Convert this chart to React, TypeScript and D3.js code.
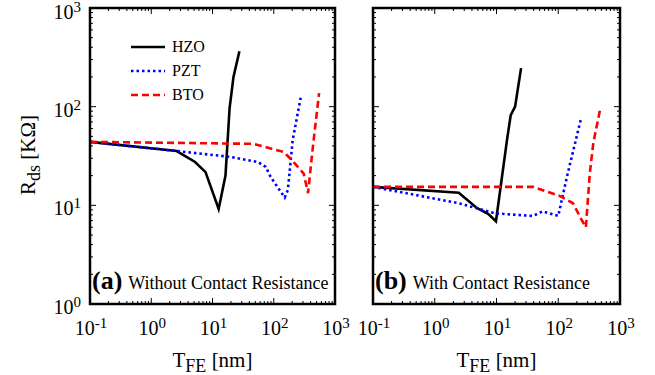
import React from "react";
import * as d3 from "d3";

// T_FE [nm] and R_ds [KOhm]
const hzoA = [[0.1, 44], [2.6, 35.5], [5.2, 27.5], [7.7, 21.7], [12.6, 9.2], [16.3, 20], [19, 96], [22, 200], [27.5, 365]];
const pztA = [[0.1, 44], [2.6, 35.5], [19.6, 31], [55, 27.5], [74, 24.5], [89, 19.4], [151, 12], [170, 14.3], [204, 46], [275, 123]];
const btoA = [[0.1, 44], [47, 42], [145, 34.7], [190, 29.5], [308, 21], [363, 13.3], [435, 39], [550, 137]];

const hzoB = [[0.1, 15.4], [2.45, 13.4], [4.8, 9.4], [7.3, 8.2], [9.8, 6.9], [14.8, 46], [17, 82], [20, 100], [25, 246]];
const pztB = [[0.1, 15.4], [2.45, 10.5], [9.4, 8.3], [39, 7.8], [56, 8.7], [100, 7.8], [138, 19.4], [234, 76]];
const btoB = [[0.1, 15.4], [39, 15.4], [107, 12.4], [173, 10.5], [240, 7.1], [280, 6.0], [325, 21.3], [370, 43], [480, 96]];

const xDecades = [-1, 0, 1, 2, 3];
const yDecades = [0, 1, 2, 3];
const legendNames = ["HZO", "PZT", "BTO"];

const styles = [
  { color: "#000000", dash: null },
  { color: "#0000ff", dash: "2.5,3" },
  { color: "#ff0000", dash: "7,4" },
];

const FONT = "Liberation Serif";

function Pow({ exp, x, y, anchor }: { exp: number; x: number; y: number; anchor: string }) {
  return (
    <text x={x} y={y} textAnchor={anchor} style={{ fontFamily: FONT }} fontSize={20} fill="#000">
      10<tspan dy={-7} fontSize={15}>{exp}</tspan>
    </text>
  );
}

function Panel({ left, right, series, label, caption, showY, showLegend }: any) {
  const top = 8;
  const bottom = 304;
  const x = d3.scaleLog().domain([0.1, 1000]).range([left, right]);
  const y = d3.scaleLog().domain([1, 1000]).range([bottom, top]);
  const line = d3.line<number[]>().x((d) => x(d[0])).y((d) => y(d[1]));

  const minorX: number[] = [];
  xDecades.slice(0, -1).forEach((e) => {
    for (let k = 2; k < 10; k++) minorX.push(k * Math.pow(10, e));
  });
  const minorY: number[] = [];
  yDecades.slice(0, -1).forEach((e) => {
    for (let k = 2; k < 10; k++) minorY.push(k * Math.pow(10, e));
  });

  return (
    <g>
      {series.map((s: number[][], i: number) => (
        <path key={i} d={line(s) || ""} fill="none" stroke={styles[i].color} strokeWidth={2.6}
          strokeDasharray={styles[i].dash || undefined} />
      ))}
      {/* ticks, all four sides, pointing in */}
      {minorX.map((v, i) => (
        <g key={"mx" + i} stroke="#000" strokeWidth={1}>
          <line x1={x(v)} x2={x(v)} y1={bottom} y2={bottom - 3} />
          <line x1={x(v)} x2={x(v)} y1={top} y2={top + 3} />
        </g>
      ))}
      {xDecades.map((e) => (
        <g key={"Mx" + e} stroke="#000" strokeWidth={1}>
          <line x1={x(Math.pow(10, e))} x2={x(Math.pow(10, e))} y1={bottom} y2={bottom - 6} />
          <line x1={x(Math.pow(10, e))} x2={x(Math.pow(10, e))} y1={top} y2={top + 6} />
        </g>
      ))}
      {minorY.map((v, i) => (
        <g key={"my" + i} stroke="#000" strokeWidth={1}>
          <line x1={left} x2={left + 3} y1={y(v)} y2={y(v)} />
          <line x1={right} x2={right - 3} y1={y(v)} y2={y(v)} />
        </g>
      ))}
      {yDecades.map((e) => (
        <g key={"My" + e} stroke="#000" strokeWidth={1}>
          <line x1={left} x2={left + 6} y1={y(Math.pow(10, e))} y2={y(Math.pow(10, e))} />
          <line x1={right} x2={right - 6} y1={y(Math.pow(10, e))} y2={y(Math.pow(10, e))} />
        </g>
      ))}
      <rect x={left} y={top} width={right - left} height={bottom - top} fill="none" stroke="#000" strokeWidth={2.5} />
      {xDecades.map((e) => (
        <Pow key={"lx" + e} exp={e} x={x(Math.pow(10, e)) + 1} y={335} anchor="middle" />
      ))}
      {showY &&
        yDecades.map((e) => (
          <Pow key={"ly" + e} exp={e} x={left - 9} y={Math.max(y(Math.pow(10, e)) + 10, 19)} anchor="end" />
        ))}
      <text x={(left + right) / 2} y={367} textAnchor="middle" style={{ fontFamily: FONT }} fontSize={21} fill="#000">
        T<tspan dy={5} fontSize={18}>FE</tspan><tspan dy={-5}> [nm]</tspan>
      </text>
      <text x={left + 2} y={289} style={{ fontFamily: FONT }} fill="#000">
        <tspan fontSize={26} fontWeight="bold">{label}</tspan>
        <tspan fontSize={18} dx={6}>{caption}</tspan>
      </text>
      {showLegend &&
        legendNames.map((n, i) => (
          <g key={n}>
            <line x1={left + 41} x2={left + 75} y1={47 + i * 24} y2={47 + i * 24}
              stroke={styles[i].color} strokeWidth={2.6} strokeDasharray={styles[i].dash || undefined} />
            <text x={left + 82} y={52 + i * 24} style={{ fontFamily: FONT }} fontSize={16} fill="#000">{n}</text>
          </g>
        ))}
    </g>
  );
}

export default function App() {
  return (
    <svg width={655} height={375} style={{ position: "absolute", left: 0, top: 0, background: "#fff" }}>
      <text transform="translate(35,155) rotate(-90)" textAnchor="middle" style={{ fontFamily: FONT }} fontSize={21} fill="#000">
        R<tspan dy={5} fontSize={18}>ds</tspan><tspan dy={-5}> [KΩ]</tspan>
      </text>
      <Panel left={90} right={335} series={[hzoA, pztA, btoA]} label="(a)" caption="Without Contact Resistance" showY showLegend />
      <Panel left={373} right={620} series={[hzoB, pztB, btoB]} label="(b)" caption="With Contact Resistance" />
    </svg>
  );
}
